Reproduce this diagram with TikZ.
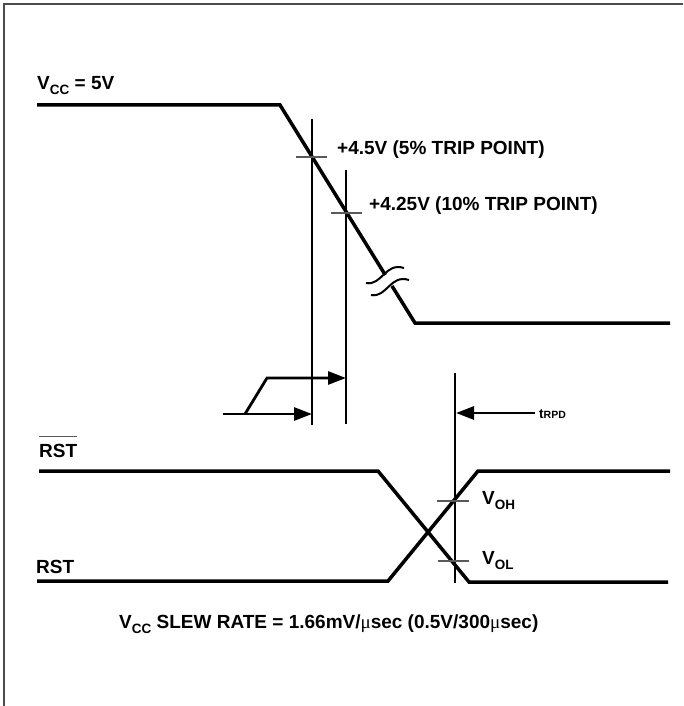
\documentclass[tikz,border=0pt]{standalone}
\usepackage{fontspec}
\setmainfont{Liberation Sans}
\newfontfamily\mufont{Liberation Serif}
\usetikzlibrary{arrows.meta}
\newcommand{\lowsub}[1]{\raisebox{-5pt}{\fontsize{13.5}{13.5}\selectfont #1}}
\newcommand{\micro}{{\mufont\mdseries μ}}

\begin{document}
\begin{tikzpicture}[x=1pt,y=-1pt,
		>={Triangle[length=18pt,width=13pt]},
		every node/.style={font=\fontsize{19}{22}\selectfont\bfseries,inner sep=0pt,anchor=base west},
		signal/.style={line width=3.5pt,line join=miter},
		guide/.style={line width=1.2pt},
		tickmark/.style={line width=1.2pt,gray!70!black},
		brk/.style={line width=2pt},
		pointer/.style={line width=2.8pt,->}]

		\useasboundingbox (0,0) rectangle (683,706);
		\draw[line width=2pt,gray!60!black] (3.5,706) -- (3.5,4.5) -- (683,4.5);

		% supply ramp
		\coordinate (vhi) at (37,105);
		\coordinate (vfall) at (280,105);
		\coordinate (vbrk1) at (385.3,275);
		\coordinate (vbrk2) at (392,286);
		\coordinate (vlow) at (415,323);
		\coordinate (vend) at (670,323);
		\draw[signal] (vhi) -- (vfall) -- (vbrk1);
		\draw[signal] (vbrk2) -- (vlow) -- (vend);
		\draw[brk] (366,283) .. controls (382,286) and (385,262) .. (404,268);
		\draw[brk] (371,295) .. controls (387,298) and (390,274) .. (409,280);

		% trip points
		\coordinate (trip1) at (312,157);
		\coordinate (trip2) at (346,213);
		\draw[guide] (312,119) coordinate (g1top) -- (312,425) coordinate (g1bot);
		\draw[guide] (346,170) coordinate (g2top) -- (346,424) coordinate (g2bot);
		\draw[tickmark] ([xshift=-16pt]trip1) -- ([xshift=15pt]trip1);
		\draw[tickmark] ([xshift=-15pt]trip2) -- ([xshift=16pt]trip2);
		\node (lab1) at (337,154) {+4.5V (5\% TRIP POINT)};
		\node (lab2) at (369,210) {+4.25V (10\% TRIP POINT)};
		\node (vcc) at (37,90) {V\lowsub{CC} = 5V};

		% delay arrows
		\coordinate (a0) at (223,414);
		\coordinate (a1) at (245,414);
		\coordinate (a2) at (267,378);
		\draw[pointer] (a0) -- (312,414);
		\draw[line width=2.8pt,line join=miter,->] (a1) -- (a2) -- (346,378);

		% reset outputs
		\coordinate (rp) at (455,373);
		\draw[guide] (rp) -- (455,583);
		\draw[pointer] (535,413) coordinate (tr) -- (456,413);
		\node (trpd) at (539,418) {{\fontsize{13.5}{13.5}\selectfont t}{\fontsize{10.5}{10.5}\selectfont RPD}};

		\draw[signal] (39,471) coordinate (nb0) -- (378,471) -- (469,582) -- (668,582);
		\draw[signal] (37,581) coordinate (r0) -- (388,581) -- (478,471) -- (670,471);
		\draw[tickmark] (437,501) coordinate (oh) -- (469,501);
		\draw[tickmark] (438,561) coordinate (ol) -- (469,561);
		\node (voh) at (482,504) {V\lowsub{OH}};
		\node (vol) at (482,564) {V\lowsub{OL}};

		\node (rstbar) at (39,457) {RST};
		\draw[line width=1.5pt,gray!70!black] ([yshift=7pt]rstbar.north west) -- ([yshift=7pt]rstbar.north east);
		\node (rst) at (36,573) {RST};

		\node (slew) at (119,628) {V\lowsub{CC} SLEW RATE = 1.66mV/\micro sec (0.5V/300\micro sec)};
		\end{tikzpicture}
\end{document}
